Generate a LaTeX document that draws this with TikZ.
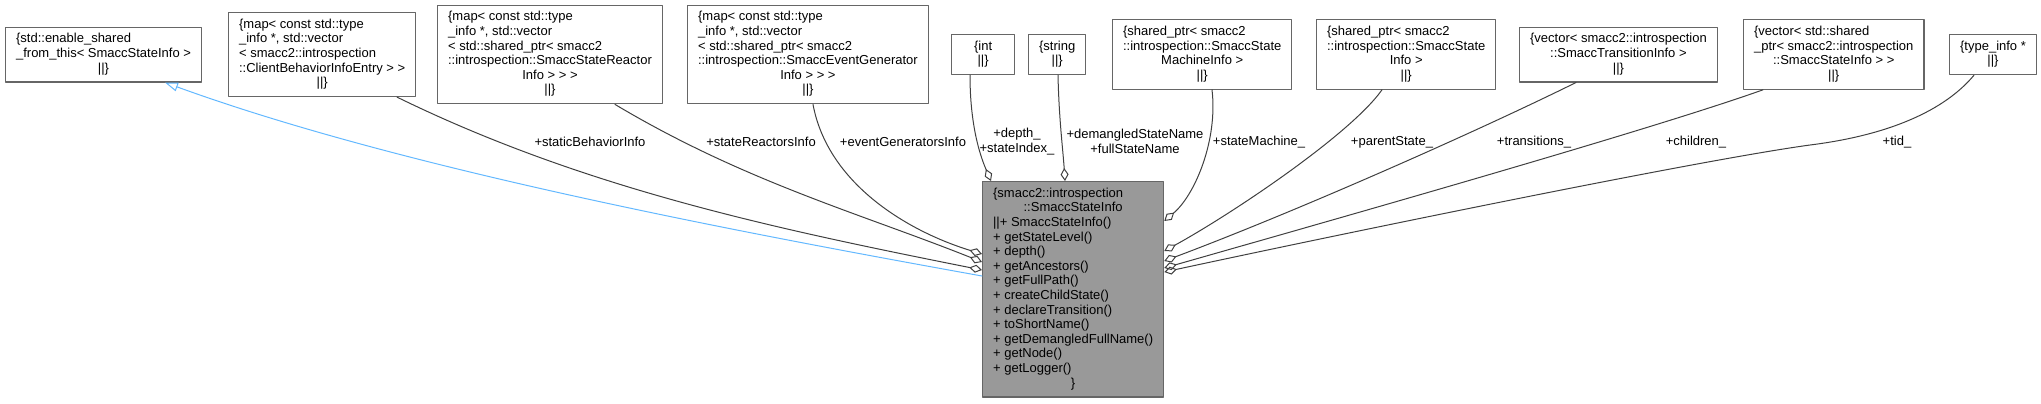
\documentclass[tikz,border=0pt]{standalone}
\usepackage{fontspec}
\setmainfont{Liberation Sans}
\usetikzlibrary{arrows.meta, calc}
\definecolor{dxedge}{HTML}{404040}
\definecolor{dxframe}{HTML}{666666}
\definecolor{dxfill}{HTML}{999999}
\definecolor{dxblue}{HTML}{63B8FF}
% record text: one left-aligned column, centred rows via \ctr
\newcommand{\rows}[1]{\begin{tabular}{@{}l@{}}#1\end{tabular}}
\newcommand{\ctr}[1]{\multicolumn{1}{c}{#1}}
\tikzset{
  every picture/.style={line cap=round, line join=round},
  rec/.style={draw=dxframe, line width=0.6pt, fill=white, inner xsep=5.25pt, inner ysep=2.75pt},
  cur/.style={rec, fill=dxfill},
  memb/.style={dxedge, line width=0.5pt, -{Diamond[open, length=6.5pt, width=4pt]}},
  inh/.style={dxblue, line width=0.5pt, {Triangle[open, length=6.5pt, width=4.5pt]}-},
  lbl/.style={inner sep=0pt, align=center},
}

\begin{document}
\begin{tikzpicture}[x=0.5pt, y=-0.5pt, font=\fontsize{6.5pt}{7.3pt}\selectfont]
  \useasboundingbox (0,0) rectangle (2041,403);
  % ---- top row: base class and member types
  \node[rec, anchor=west] (base) at (5,54.5) {\rows{\{std::enable\_shared\\ \_from\_this< SmaccStateInfo >\\ \ctr{||\}}}};
  \node[rec, anchor=west] (cbinfo) at (228,54.5) {\rows{\{map< const std::type\\ \_info *, std::vector\\ < smacc2::introspection\\ ::ClientBehaviorInfoEntry > >\\ \ctr{||\}}}};
  \node[rec, anchor=west] (reactors) at (437,54.5) {\rows{\{map< const std::type\\ \_info *, std::vector\\ < std::shared\_ptr< smacc2\\ ::introspection::SmaccStateReactor\\ \ctr{Info > > >}\\ \ctr{||\}}}};
  \node[rec, anchor=west] (evgen) at (687,54.5) {\rows{\{map< const std::type\\ \_info *, std::vector\\ < std::shared\_ptr< smacc2\\ ::introspection::SmaccEventGenerator\\ \ctr{Info > > >}\\ \ctr{||\}}}};
  \node[rec, anchor=west] (tint) at (951,54.5) {\rows{\ctr{\{int}\\ \ctr{||\}}}};
  \node[rec, anchor=west] (tstring) at (1028,54.5) {\rows{\{string\\ \ctr{||\}}}};
  \node[rec, anchor=west] (machine) at (1112,54.5) {\rows{\{shared\_ptr< smacc2\\ ::introspection::SmaccState\\ \ctr{MachineInfo >}\\ \ctr{||\}}}};
  \node[rec, anchor=west] (parent) at (1316,54.5) {\rows{\{shared\_ptr< smacc2\\ ::introspection::SmaccState\\ \ctr{Info >}\\ \ctr{||\}}}};
  \node[rec, anchor=west] (trans) at (1519,54.5) {\rows{\{vector< smacc2::introspection\\ \ctr{::SmaccTransitionInfo >}\\ \ctr{||\}}}};
  \node[rec, anchor=west] (children) at (1743,54.5) {\rows{\{vector< std::shared\\ \_ptr< smacc2::introspection\\ \ctr{::SmaccStateInfo > >}\\ \ctr{||\}}}};
  \node[rec, anchor=west] (tinfo) at (1949,54.5) {\rows{\{type\_info *\\ \ctr{||\}}}};
  % ---- the documented class
  \node[cur, anchor=north west] (cur) at (982,181) {\rows{\{smacc2::introspection\\ \ctr{::SmaccStateInfo}\\
    ||+ SmaccStateInfo()\\ + getStateLevel()\\ + depth()\\ + getAncestors()\\ + getFullPath()\\
    + createChildState()\\ + declareTransition()\\ + toShortName()\\ + getDemangledFullName()\\
    + getNode()\\ + getLogger()\\ \ctr{\}}}};
  % ---- edge labels
  \node[lbl] (lstatic) at (590,142) {+staticBehaviorInfo};
  \node[lbl] (lreact) at (761,142) {+stateReactorsInfo};
  \node[lbl] (levgen) at (903,142) {+eventGeneratorsInfo};
  \node[lbl] (ldepth) at (1017,141.5) {+depth\_\\+stateIndex\_};
  \node[lbl] (lname) at (1135,141.5) {+demangledStateName\\+fullStateName};
  \node[lbl] (lmach) at (1259,142) {+stateMachine\_};
  \node[lbl] (lparent) at (1392,142) {+parentState\_};
  \node[lbl] (ltrans) at (1534,142) {+transitions\_};
  \node[lbl] (lchild) at (1696,142) {+children\_};
  \node[lbl] (ltid) at (1897,142) {+tid\_};
  % ---- inheritance
  \draw[inh] ($(base.south west)+(160,0)$) .. controls (400,168) and (732,231) .. ($(cur.north west)+(0,95)$);
  % ---- members entering from the left
  \draw[memb] ($(cbinfo.south west)+(169,0)$) .. controls (587,190) and (782,230) .. ($(cur.north west)+(0,89)$);
  \draw[memb] ($(reactors.south west)+(178,0)$) .. controls (745,182) and (862,214) .. ($(cur.north west)+(0,81)$);
  \draw[memb] ($(evgen.south west)+(126,0)$) .. controls (828,185) and (910,232) .. ($(cur.north west)+(0,73)$);
  % ---- members entering from the top
  \draw[memb] ($(tint.south west)+(19,0)$) .. controls (970,130) and (982,160) .. ($(cur.north west)+(9,0)$);
  \draw[memb] ($(tstring.south west)+(30,0)$) .. controls (1059,120) and (1063,150) .. ($(cur.north west)+(83,0)$);
  % ---- members entering from the right
  \draw[memb] ($(machine.south west)+(100,0)$) .. controls (1218,140) and (1195,195) .. ($(cur.north east)+(0,40)$);
  \draw[memb] ($(parent.south west)+(66,0)$) .. controls (1350,135) and (1230,215) .. ($(cur.north east)+(0,70)$);
  \draw[memb] ($(trans.south west)+(57,0)$) .. controls (1480,130) and (1300,210) .. ($(cur.north east)+(0,80)$);
  \draw[memb] ($(children.south west)+(20,0)$) .. controls (1650,130) and (1350,215) .. ($(cur.north east)+(0,87)$);
  \draw[memb] ($(tinfo.south west)+(25,0)$) .. controls (1945,110) and (1890,135) .. (1810,145)
    .. controls (1700,160) and (1350,232) .. ($(cur.north east)+(0,91)$);
\end{tikzpicture}
\end{document}
